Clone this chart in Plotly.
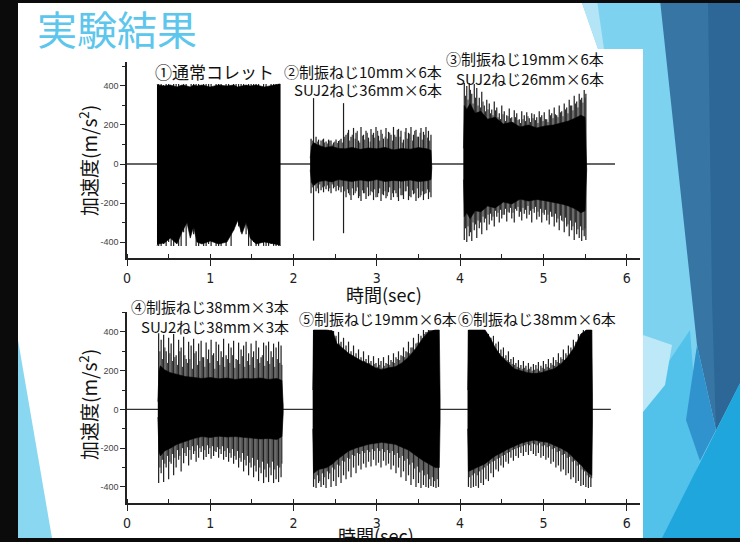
import plotly.graph_objects as go

W, H = 740, 542

# ---------------- data ----------------
time_ticks = [0, 1, 2, 3, 4, 5, 6]
acc_ticks = [-400, -200, 0, 200, 400]
acc_tick_labels = ["-400", "-200", "0", "200", "400"]

baseline_top = [0.0, 5.86]
baseline_bottom = [0.0, 5.81]

# ① 通常コレット (top chart)
s1_t  = [0.36, 0.37, 0.45, 0.52, 0.60, 0.66, 0.72, 0.76, 0.80, 0.84, 0.90, 1.00, 1.10, 1.20, 1.28, 1.33,
         1.38, 1.43, 1.48, 1.55, 1.65, 1.75, 1.83, 1.84]
s1_up = [410, 405, 400, 405, 395, 405, 400, 395, 405, 400, 405, 395, 405, 400, 405, 395,
         400, 405, 400, 405, 395, 405, 410, 410]
s1_lo = [-420, -410, -405, -380, -410, -350, -300, -380, -320, -400, -410, -395, -410, -400, -340, -290,
         -360, -300, -380, -410, -400, -410, -415, -420]
s1_spk_t = [0.38, 0.41, 0.44, 0.47, 0.50, 0.53, 0.56, 0.59, 0.62, 0.65, 0.68, 0.71, 0.74, 0.77, 0.80, 0.83, 0.86,
            0.89, 0.92, 0.95, 0.98, 1.01, 1.04, 1.07, 1.10, 1.13, 1.16, 1.19, 1.22, 1.25, 1.28, 1.31, 1.34,
            1.37, 1.40, 1.43, 1.46, 1.49, 1.52, 1.55, 1.58, 1.61, 1.64, 1.67, 1.70, 1.73, 1.76, 1.79, 1.82]
s1_spk_up = [410, 410, 405, 410, 410, 380, 410, 410, 410, 395, 410, 410, 370, 410, 410, 410, 410,
             390, 410, 410, 410, 410, 375, 410, 410, 410, 400, 410, 410, 360, 410, 410, 410,
             410, 410, 385, 410, 410, 410, 410, 410, 395, 410, 410, 370, 410, 410, 410, 410]
s1_spk_lo = [-420, -420, -410, -420, -400, -420, -420, -380, -420, -420, -350, -420, -330, -310, -360, -420, -420,
             -400, -420, -420, -410, -420, -380, -420, -420, -420, -400, -420, -360, -420, -340, -300, -320,
             -350, -310, -360, -420, -420, -400, -420, -420, -380, -420, -420, -420, -410, -420, -420, -420]
s1_spk2_t, s1_spk2_up, s1_spk2_lo = [], [], []

# ② 制振ねじ10mm×6本 / SUJ2ねじ36mm×6本
s2_t  = [2.20, 2.215, 2.24, 2.30, 2.38, 2.46, 2.54, 2.62, 2.70, 2.80, 2.90, 3.00, 3.10, 3.20, 3.30, 3.40,
         3.50, 3.60, 3.65, 3.66]
s2_up = [30, 90, 110, 95, 85, 90, 80, 78, 85, 75, 82, 78, 85, 72, 80, 76, 84, 78, 70, 20]
s2_lo = [-30, -95, -110, -90, -85, -92, -80, -85, -90, -82, -88, -80, -90, -84, -88, -82, -90, -86, -80, -20]
s2_spk_t = [2.21, 2.24, 2.27, 2.30, 2.33, 2.36, 2.39, 2.42, 2.45, 2.48, 2.51, 2.54, 2.57, 2.60, 2.63, 2.66, 2.69,
            2.72, 2.75, 2.78, 2.81, 2.84, 2.87, 2.90, 2.93, 2.96, 2.99, 3.02, 3.05, 3.08, 3.11, 3.14, 3.17,
            3.20, 3.23, 3.26, 3.29, 3.32, 3.35, 3.38, 3.41, 3.44, 3.47, 3.50, 3.53, 3.56, 3.59, 3.62, 3.65]
s2_spk_up = [130, 338, 140, 125, 120, 130, 115, 125, 120, 110, 125, 118, 130, 312, 150, 175, 140,
             185, 160, 120, 190, 150, 170, 135, 180, 160, 190, 145, 175, 130, 185, 165, 150,
             190, 140, 180, 170, 125, 185, 160, 190, 150, 175, 140, 185, 165, 190, 170, 150]
s2_spk_lo = [-150, -393, -140, -150, -135, -145, -130, -140, -150, -125, -140, -135, -145, -355, -170, -150, -185,
             -160, -140, -175, -190, -150, -180, -165, -140, -185, -170, -150, -190, -160, -175, -145, -185,
             -170, -150, -190, -160, -180, -140, -185, -170, -155, -190, -175, -160, -185, -150, -180, -170]
s2_spk2_t = [2.225, 2.255, 2.29, 2.315, 2.35, 2.37, 2.405, 2.435, 2.465, 2.495, 2.525, 2.555, 2.585, 2.615,
             2.65, 2.675, 2.705, 2.74, 2.765, 2.795, 2.83, 2.855, 2.885, 2.92, 2.945, 2.975, 3.01, 3.035,
             3.065, 3.10, 3.125, 3.155, 3.19, 3.215, 3.245, 3.28, 3.305, 3.34, 3.365, 3.395, 3.43, 3.455,
             3.485, 3.52, 3.545, 3.575, 3.61, 3.635]
s2_spk2_up = [120, 105, 115, 100, 125, 110, 105, 120, 100, 115, 108, 122, 110, 140, 160, 120, 150, 130,
              170, 110, 145, 125, 160, 115, 150, 135, 170, 120, 155, 140, 130, 160, 120, 150, 175, 140,
              110, 165, 130, 155, 120, 170, 140, 160, 125, 150, 135, 120]
s2_spk2_lo = [-120, -110, -125, -105, -120, -115, -110, -125, -105, -118, -112, -120, -115, -140, -130, -160,
              -125, -150, -120, -165, -135, -150, -120, -160, -145, -130, -170, -125, -155, -140, -165, -120,
              -150, -135, -170, -125, -160, -140, -115, -165, -135, -150, -125, -170, -140, -155, -130, -145]

# ③ 制振ねじ19mm×6本 / SUJ2ねじ26mm×6本
s3_t  = [4.04, 4.05, 4.08, 4.12, 4.18, 4.25, 4.33, 4.42, 4.52, 4.62, 4.72, 4.82, 4.92, 5.02, 5.12, 5.22,
         5.30, 5.38, 5.45, 5.50, 5.52]
s3_up = [80, 300, 280, 310, 260, 270, 230, 240, 205, 215, 190, 200, 185, 195, 200, 210,
         220, 235, 250, 240, 30]
s3_lo = [-80, -270, -250, -280, -240, -245, -215, -225, -195, -205, -180, -190, -182, -188, -195, -205,
         -215, -230, -250, -240, -30]
s3_spk_t = [4.05, 4.08, 4.11, 4.14, 4.17, 4.20, 4.23, 4.26, 4.29, 4.32, 4.35, 4.38, 4.41, 4.44, 4.47, 4.50, 4.53,
            4.56, 4.59, 4.62, 4.65, 4.68, 4.71, 4.74, 4.77, 4.80, 4.83, 4.86, 4.89, 4.92, 4.95, 4.98, 5.01,
            5.04, 5.07, 5.10, 5.13, 5.16, 5.19, 5.22, 5.25, 5.28, 5.31, 5.34, 5.37, 5.40, 5.43, 5.46, 5.49, 5.51]
s3_spk_up = [415, 400, 415, 360, 410, 390, 340, 370, 300, 330, 310, 280, 320, 290, 260, 300, 270,
             250, 285, 240, 275, 260, 230, 270, 250, 265, 235, 260, 255, 240, 270, 250, 265,
             230, 280, 260, 290, 250, 300, 270, 310, 290, 330, 300, 350, 320, 360, 340, 380, 360]
s3_spk_lo = [-390, -400, -370, -395, -340, -380, -330, -360, -300, -340, -310, -290, -320, -270, -300, -280, -260,
             -295, -250, -280, -300, -240, -270, -290, -255, -280, -260, -300, -250, -285, -270, -300, -260,
             -290, -310, -270, -320, -300, -340, -290, -350, -320, -370, -340, -390, -360, -380, -395, -370, -390]
s3_spk2_t = [4.065, 4.095, 4.125, 4.155, 4.185, 4.215, 4.245, 4.275, 4.305, 4.335, 4.365, 4.395, 4.425,
             4.455, 4.485, 4.515, 4.545, 4.575, 4.605, 4.635, 4.665, 4.695, 4.725, 4.755, 4.785, 4.815,
             4.845, 4.875, 4.905, 4.935, 4.965, 4.995, 5.025, 5.055, 5.085, 5.115, 5.145, 5.175, 5.205,
             5.235, 5.265, 5.295, 5.325, 5.355, 5.385, 5.415, 5.445, 5.475, 5.50]
s3_spk2_up = [350, 330, 380, 310, 340, 300, 290, 320, 270, 280, 260, 250, 275, 240, 230, 255, 220, 245,
              235, 215, 240, 225, 210, 230, 220, 245, 215, 235, 225, 210, 240, 220, 230, 215, 250, 235,
              255, 240, 265, 245, 280, 260, 300, 275, 310, 290, 330, 315, 340]
s3_spk2_lo = [-330, -320, -350, -300, -310, -290, -300, -270, -280, -260, -255, -270, -240, -250, -235, -260,
              -230, -245, -225, -250, -230, -220, -245, -225, -235, -215, -240, -230, -220, -245, -230, -250,
              -235, -260, -245, -270, -255, -280, -265, -295, -275, -310, -290, -320, -300, -335, -320, -340, -330]

# ④ 制振ねじ38mm×3本 / SUJ2ねじ38mm×3本 (bottom chart)
s4_t  = [0.37, 0.385, 0.40, 0.45, 0.52, 0.60, 0.70, 0.80, 0.90, 1.00, 1.10, 1.20, 1.30, 1.40, 1.50, 1.60,
         1.70, 1.80, 1.86, 1.876]
s4_up = [40, 200, 225, 205, 190, 180, 170, 165, 160, 165, 158, 162, 155, 160, 158, 162, 155, 160, 150, 20]
s4_lo = [-40, -220, -240, -215, -200, -180, -165, -150, -140, -145, -138, -142, -140, -145, -148, -152,
         -150, -155, -140, -20]
s4_spk_t = [0.38, 0.41, 0.44, 0.47, 0.50, 0.53, 0.56, 0.59, 0.62, 0.65, 0.68, 0.71, 0.74, 0.77, 0.80, 0.83, 0.86,
            0.89, 0.92, 0.95, 0.98, 1.01, 1.04, 1.07, 1.10, 1.13, 1.16, 1.19, 1.22, 1.25, 1.28, 1.31, 1.34,
            1.37, 1.40, 1.43, 1.46, 1.49, 1.52, 1.55, 1.58, 1.61, 1.64, 1.67, 1.70, 1.73, 1.76, 1.79, 1.82, 1.85]
s4_spk_up = [393, 360, 385, 300, 370, 340, 390, 280, 360, 320, 375, 260, 350, 330, 365, 300, 340,
             355, 270, 345, 310, 360, 290, 350, 335, 300, 365, 280, 340, 320, 355, 260, 345,
             310, 330, 350, 290, 340, 300, 355, 320, 270, 345, 330, 350, 300, 340, 320, 350, 330]
s4_spk_lo = [-380, -330, -375, -300, -360, -280, -340, -300, -260, -320, -278, -240, -290, -260, -230, -270, -250,
             -220, -260, -245, -230, -255, -240, -220, -250, -230, -260, -245, -270, -250, -280, -260, -300,
             -270, -320, -290, -340, -300, -350, -320, -370, -330, -380, -350, -375, -340, -380, -360, -375, -350]
s4_spk2_t = [0.395, 0.425, 0.455, 0.485, 0.515, 0.545, 0.575, 0.605, 0.635, 0.665, 0.695, 0.725, 0.755,
             0.785, 0.815, 0.845, 0.875, 0.905, 0.935, 0.965, 0.995, 1.025, 1.055, 1.085, 1.115, 1.145,
             1.175, 1.205, 1.235, 1.265, 1.295, 1.325, 1.355, 1.385, 1.415, 1.445, 1.475, 1.505, 1.535,
             1.565, 1.595, 1.625, 1.655, 1.685, 1.715, 1.745, 1.775, 1.805, 1.835, 1.86]
s4_spk2_up = [300, 260, 320, 240, 290, 250, 270, 230, 300, 220, 280, 240, 260, 210, 290, 230, 250, 270,
              220, 260, 240, 280, 210, 250, 230, 270, 220, 260, 240, 280, 215, 255, 235, 275, 220, 250,
              230, 270, 215, 260, 240, 280, 225, 250, 235, 270, 220, 260, 240, 230]
s4_spk2_lo = [-300, -260, -280, -240, -270, -230, -250, -210, -240, -200, -225, -195, -210, -190, -215, -185,
              -200, -190, -210, -185, -200, -190, -215, -195, -205, -190, -215, -200, -225, -205, -240, -215,
              -250, -225, -260, -240, -275, -250, -290, -260, -300, -270, -310, -280, -300, -270, -310, -290,
              -300, -280]

# ⑤ 制振ねじ19mm×6本
s5_t  = [2.23, 2.24, 2.30, 2.40, 2.47, 2.52, 2.58, 2.66, 2.74, 2.82, 2.90, 2.98, 3.06, 3.14, 3.22, 3.30,
         3.38, 3.46, 3.54, 3.62, 3.70, 3.75, 3.76]
s5_up = [100, 410, 410, 410, 405, 340, 320, 290, 270, 250, 235, 215, 205, 215, 220, 240,
         270, 310, 360, 400, 410, 410, 60]
s5_lo = [-100, -330, -310, -300, -280, -260, -240, -215, -200, -190, -180, -175, -170, -175, -180, -195,
         -210, -235, -260, -280, -300, -300, -60]
s5_spk_t = [2.24, 2.27, 2.30, 2.33, 2.36, 2.39, 2.42, 2.45, 2.48, 2.51, 2.54, 2.57, 2.60, 2.63, 2.66, 2.69, 2.72,
            2.75, 2.78, 2.81, 2.84, 2.87, 2.90, 2.93, 2.96, 2.99, 3.02, 3.05, 3.08, 3.11, 3.14, 3.17, 3.20,
            3.23, 3.26, 3.29, 3.32, 3.35, 3.38, 3.41, 3.44, 3.47, 3.50, 3.53, 3.56, 3.59, 3.62, 3.65, 3.68, 3.71, 3.74]
s5_spk_up = [410, 410, 410, 410, 410, 410, 410, 410, 405, 380, 400, 350, 370, 330, 350, 300, 330,
             290, 310, 270, 300, 260, 280, 250, 275, 240, 265, 250, 270, 240, 280, 255, 290,
             270, 300, 280, 320, 300, 350, 320, 370, 340, 390, 380, 410, 400, 410, 410, 410, 410, 410]
s5_spk_lo = [-400, -405, -380, -400, -390, -405, -360, -400, -370, -395, -350, -380, -340, -360, -320, -350, -300,
             -330, -290, -310, -280, -300, -270, -295, -260, -290, -275, -300, -265, -290, -280, -310, -290,
             -330, -300, -350, -320, -370, -340, -390, -360, -400, -380, -405, -390, -400, -405, -395, -400, -405, -400]
s5_spk2_t = [2.255, 2.285, 2.315, 2.345, 2.375, 2.405, 2.435, 2.465, 2.495, 2.525, 2.555, 2.585, 2.615,
             2.645, 2.675, 2.705, 2.735, 2.765, 2.795, 2.825, 2.855, 2.885, 2.915, 2.945, 2.975, 3.005,
             3.035, 3.065, 3.095, 3.125, 3.155, 3.185, 3.215, 3.245, 3.275, 3.305, 3.335, 3.365, 3.395,
             3.425, 3.455, 3.485, 3.515, 3.545, 3.575, 3.605, 3.635, 3.665, 3.695, 3.725]
s5_spk2_up = [410, 410, 410, 410, 410, 400, 390, 380, 360, 330, 340, 310, 300, 290, 280, 265, 270, 250,
              255, 240, 250, 230, 240, 225, 235, 220, 230, 215, 225, 235, 230, 245, 240, 260, 255, 275,
              270, 295, 290, 320, 310, 345, 340, 370, 390, 400, 410, 410, 410, 410]
s5_spk2_lo = [-360, -340, -370, -330, -350, -320, -330, -300, -310, -285, -290, -265, -270, -250, -255, -235,
              -240, -225, -230, -215, -225, -210, -220, -205, -215, -200, -215, -205, -220, -210, -225, -215,
              -235, -225, -250, -240, -265, -255, -285, -275, -305, -295, -325, -315, -340, -335, -360, -350,
              -370, -360]

# ⑥ 制振ねじ38mm×6本
s6_t  = [4.09, 4.10, 4.20, 4.30, 4.36, 4.42, 4.49, 4.57, 4.65, 4.73, 4.81, 4.89, 4.97, 5.05, 5.13, 5.21,
         5.29, 5.37, 5.45, 5.52, 5.58, 5.59]
s6_up = [100, 410, 410, 410, 370, 320, 275, 240, 210, 200, 190, 185, 190, 200, 210, 235,
         270, 320, 390, 410, 410, 60]
s6_lo = [-100, -320, -300, -280, -260, -240, -225, -205, -190, -175, -165, -158, -165, -170, -185, -200,
         -220, -250, -285, -320, -340, -60]
s6_spk_t = [4.10, 4.13, 4.16, 4.19, 4.22, 4.25, 4.28, 4.31, 4.34, 4.37, 4.40, 4.43, 4.46, 4.49, 4.52, 4.55, 4.58,
            4.61, 4.64, 4.67, 4.70, 4.73, 4.76, 4.79, 4.82, 4.85, 4.88, 4.91, 4.94, 4.97, 5.00, 5.03, 5.06,
            5.09, 5.12, 5.15, 5.18, 5.21, 5.24, 5.27, 5.30, 5.33, 5.36, 5.39, 5.42, 5.45, 5.48, 5.51, 5.54, 5.57]
s6_spk_up = [410, 410, 410, 410, 410, 410, 410, 400, 390, 370, 380, 340, 350, 310, 320, 280, 300,
             260, 270, 240, 255, 230, 250, 225, 240, 220, 235, 230, 245, 225, 250, 235, 260,
             240, 270, 255, 290, 270, 310, 290, 330, 320, 360, 350, 390, 380, 410, 410, 410, 410]
s6_spk_lo = [-400, -405, -400, -395, -405, -380, -390, -360, -370, -330, -350, -310, -320, -290, -300, -270, -280,
             -250, -265, -240, -250, -225, -240, -220, -235, -215, -230, -240, -225, -250, -240, -260, -250,
             -280, -270, -300, -290, -320, -310, -340, -330, -360, -350, -380, -370, -395, -390, -400, -405, -400]
s6_spk2_t = [4.115, 4.145, 4.175, 4.205, 4.235, 4.265, 4.295, 4.325, 4.355, 4.385, 4.415, 4.445, 4.475,
             4.505, 4.535, 4.565, 4.595, 4.625, 4.655, 4.685, 4.715, 4.745, 4.775, 4.805, 4.835, 4.865,
             4.895, 4.925, 4.955, 4.985, 5.015, 5.045, 5.075, 5.105, 5.135, 5.165, 5.195, 5.225, 5.255,
             5.285, 5.315, 5.345, 5.375, 5.405, 5.435, 5.465, 5.495, 5.525, 5.555, 5.58]
s6_spk2_up = [410, 410, 410, 410, 410, 400, 390, 380, 350, 330, 320, 300, 290, 275, 265, 255, 245, 235,
              230, 220, 215, 210, 215, 205, 210, 200, 205, 210, 200, 215, 210, 220, 215, 230, 225, 245,
              240, 260, 255, 280, 275, 305, 300, 335, 340, 370, 390, 410, 410, 410]
s6_spk2_lo = [-350, -340, -330, -340, -320, -310, -300, -290, -280, -270, -265, -255, -250, -240, -235, -225,
              -220, -210, -205, -200, -195, -190, -185, -180, -185, -175, -180, -185, -175, -190, -185, -195,
              -190, -205, -200, -220, -215, -235, -230, -250, -245, -270, -265, -290, -285, -310, -320, -340,
              -350, -355]

top_segments = [
    (s1_t, s1_up, s1_lo, s1_spk_t, s1_spk_up, s1_spk_lo, s1_spk2_t, s1_spk2_up, s1_spk2_lo),
    (s2_t, s2_up, s2_lo, s2_spk_t, s2_spk_up, s2_spk_lo, s2_spk2_t, s2_spk2_up, s2_spk2_lo),
    (s3_t, s3_up, s3_lo, s3_spk_t, s3_spk_up, s3_spk_lo, s3_spk2_t, s3_spk2_up, s3_spk2_lo)]
bottom_segments = [
    (s4_t, s4_up, s4_lo, s4_spk_t, s4_spk_up, s4_spk_lo, s4_spk2_t, s4_spk2_up, s4_spk2_lo),
    (s5_t, s5_up, s5_lo, s5_spk_t, s5_spk_up, s5_spk_lo, s5_spk2_t, s5_spk2_up, s5_spk2_lo),
    (s6_t, s6_up, s6_lo, s6_spk_t, s6_spk_up, s6_spk_lo, s6_spk2_t, s6_spk2_up, s6_spk2_lo)]

# ---------------- helpers ----------------
def px(x):
    return x / W

def py(y):
    return 1 - y / H

def path(points):
    return "M " + " L ".join(f"{px(a):.5f},{py(b):.5f}" for a, b in points) + " Z"

fig = go.Figure()

def spikes(st, su, sl, xa, ya, color, width):
    xs, ys = [], []
    for a, b, c in zip(st, su, sl):
        xs += [a, a, None]
        ys += [c, b, None]
    if xs:
        fig.add_trace(go.Scatter(x=xs, y=ys, mode="lines", xaxis=xa, yaxis=ya,
                                 line=dict(color=color, width=width), hoverinfo="skip", showlegend=False))

def add_segment(seg, xa, ya):
    t, up, lo, st, su, sl, st2, su2, sl2 = seg
    spikes(st, su, sl, xa, ya, "#1e1e1e", 1.2)
    spikes(st2, su2, sl2, xa, ya, "#2a2a2a", 1.0)
    fig.add_trace(go.Scatter(x=list(t) + list(t)[::-1], y=list(up) + list(lo)[::-1],
                             mode="lines", fill="toself", fillcolor="black",
                             line=dict(color="black", width=0.6), xaxis=xa, yaxis=ya,
                             hoverinfo="skip", showlegend=False))

fig.add_trace(go.Scatter(x=baseline_top, y=[0, 0], mode="lines", xaxis="x", yaxis="y",
                         line=dict(color="#333", width=1.3), hoverinfo="skip", showlegend=False))
fig.add_trace(go.Scatter(x=baseline_bottom, y=[0, 0], mode="lines", xaxis="x2", yaxis="y2",
                         line=dict(color="#333", width=1.3), hoverinfo="skip", showlegend=False))
for s in top_segments:
    add_segment(s, "x", "y")
for s in bottom_segments:
    add_segment(s, "x2", "y2")

# ---------------- axes ----------------
num_font_x = dict(family="Liberation Sans Narrow, DejaVu Sans Condensed, sans-serif", size=14, color="#222")
num_font_y = dict(family="Liberation Sans, DejaVu Sans, sans-serif", size=9, color="#444")

xcommon = dict(range=[0, 6.16], tickvals=time_ticks, showline=True, linecolor="#222", linewidth=1.5,
               ticks="outside", ticklen=6, tickwidth=1.2, tickcolor="#222", tickfont=num_font_x,
               showgrid=False, zeroline=False, fixedrange=True, automargin=False,
               minor=dict(tick0=0, dtick=0.5, ticks="inside", ticklen=4, tickcolor="#222", tickwidth=1.2))
ycommon = dict(tickvals=acc_ticks, ticktext=acc_tick_labels, showline=True, linecolor="#222", linewidth=1.5,
               ticks="outside", ticklen=5, tickwidth=1, tickcolor="#222", tickfont=num_font_y,
               showgrid=False, zeroline=False, fixedrange=True, automargin=False,
               minor=dict(tick0=0, dtick=100, ticks="outside", ticklen=3, tickcolor="#222", tickwidth=1))

fig.update_layout(
    xaxis=dict(domain=[px(127), px(640)], anchor="y", **xcommon),
    yaxis=dict(domain=[py(258), py(62)], anchor="x", range=[-482, 523], **ycommon),
    xaxis2=dict(domain=[px(127), px(640)], anchor="y2", **xcommon),
    yaxis2=dict(domain=[py(503), py(312)], anchor="x2", range=[-483, 503], **ycommon),
)

# ---------------- slide decoration ----------------
shapes = []
def poly(points, color, layer="below"):
    shapes.append(dict(type="path", xref="paper", yref="paper", path=path(points),
                       fillcolor=color, line=dict(width=0), layer=layer))

poly([(581, 0), (740, 0), (740, 542), (643, 542), (643, 49), (598, 49)], "#7DD2EF")
poly([(581, 0), (597, 0), (604, 49), (598, 49)], "#B3E5F7")
poly([(643, 400), (690, 330), (700, 461), (668, 542), (643, 542)], "#52C2EA")
poly([(643, 335), (672, 345), (665, 385), (643, 412)], "#BDE8F8")
poly([(660, 0), (740, 0), (740, 383), (716, 430), (697, 345)], "#3776A4")
poly([(708, 0), (740, 0), (740, 383), (716, 430), (712, 300)], "#2C6797")
poly([(697, 345), (716, 430), (700, 461), (686, 420)], "#3193CE")
poly([(660, 542), (740, 383), (740, 542)], "#1FA7DD")
poly([(18, 340), (52, 538), (18, 538)], "#8AD7F2")
# chart image (white)
shapes.append(dict(type="rect", xref="paper", yref="paper", x0=px(58), x1=px(643), y0=py(538), y1=py(49),
                   fillcolor="white", line=dict(width=0), layer="below"))
# black frame of the screenshot
for (x0, y0, x1, y1) in [(0, 0, 740, 3), (0, 0, 18, 542), (0, 538, 740, 542)]:
    shapes.append(dict(type="rect", xref="paper", yref="paper", x0=px(x0), x1=px(x1), y0=py(y1), y1=py(y0),
                       fillcolor="#0b0b0b", line=dict(width=0), layer="above"))

# ---------------- text ----------------
ann = []
def text(x, y, s, size=15, xanchor="left", color="#111", family="Noto Sans CJK JP", angle=0):
    ann.append(dict(x=px(x), y=py(y), xref="paper", yref="paper", text=s, showarrow=False,
                    xanchor=xanchor, yanchor="middle", textangle=angle,
                    font=dict(family=family, size=size, color=color)))

text(35, 28, "実験結果", size=40, color="#5CC6EC")
text(153, 71, "①通常コレット", size=17)
text(444, 72, "②制振ねじ10mm×6本", size=15, xanchor="right")
text(444, 90, "SUJ2ねじ36mm×6本", size=15, xanchor="right")
text(606, 58, "③制振ねじ19mm×6本", size=15, xanchor="right")
text(606, 78, "SUJ2ねじ26mm×6本", size=15, xanchor="right")
text(291, 306, "④制振ねじ38mm×3本", size=15, xanchor="right")
text(291, 326, "SUJ2ねじ38mm×3本", size=15, xanchor="right")
text(297, 318, "⑤制振ねじ19mm×6本", size=15)
text(456, 318, "⑥制振ねじ38mm×6本", size=15)
text(384, 294, "時間(sec)", size=18, xanchor="center")
text(376, 535, "時間(sec)", size=18, xanchor="center")
text(88, 161, "加速度(m/s<sup>2</sup>)", size=19, xanchor="center", angle=-90)
text(88, 405, "加速度(m/s<sup>2</sup>)", size=19, xanchor="center", angle=-90)

fig.update_layout(width=W, height=H, margin=dict(l=0, r=0, t=0, b=0),
                  paper_bgcolor="white", plot_bgcolor="rgba(0,0,0,0)",
                  shapes=shapes, annotations=ann, showlegend=False)

fig.write_html("out.html", config={"displayModeBar": False},
               post_script="document.body.style.margin='0';document.body.style.padding='0';")
